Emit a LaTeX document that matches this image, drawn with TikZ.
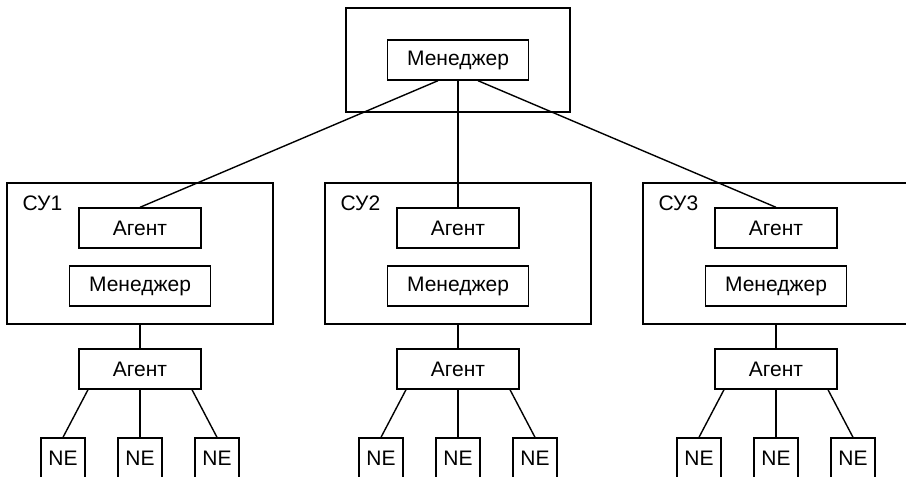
\documentclass[tikz,border=0pt]{standalone}
\usepackage{fontspec}
\setmainfont{Liberation Sans}
\begin{document}
\begin{tikzpicture}[x=1pt, y=-1pt, line width=1.4pt,
    every node/.style={font=\fontsize{21}{24}\selectfont, inner sep=0pt},
    blk/.style={draw, fill=white, minimum height=40pt},
    outer/.style={draw, minimum width=266pt, minimum height=141pt}]
    \useasboundingbox (0,0) rectangle (906,477);
    % Top level
    \node[draw, minimum width=224pt, minimum height=104pt] (top) at (458,60) {};
    \node[blk, minimum width=141pt] (mgr) at (458,60) {Менеджер};
    % Control units
    \node[outer] (su1) at (140,253.5) {};
    \node[outer] (su2) at (458,253.5) {};
    \node[outer] (su3) at (776,253.5) {};
    \node[anchor=base west] (l1) at (22,210) {СУ1};
    \node[anchor=base west] (l2) at (340,210) {СУ2};
    \node[anchor=base west] (l3) at (658,210) {СУ3};
    \node[blk, minimum width=122pt] (ag1) at (140,228) {Агент};
    \node[blk, minimum width=122pt] (ag2) at (458,228) {Агент};
    \node[blk, minimum width=122pt] (ag3) at (776,228) {Агент};
    \node[blk, minimum width=141pt] (m1) at (140,286) {Менеджер};
    \node[blk, minimum width=141pt] (m2) at (458,286) {Менеджер};
    \node[blk, minimum width=141pt] (m3) at (776,286) {Менеджер};
    % Lower agents
    \node[blk, minimum width=122pt] (la1) at (140,369) {Агент};
    \node[blk, minimum width=122pt] (la2) at (458,369) {Агент};
    \node[blk, minimum width=122pt] (la3) at (776,369) {Агент};
    % Network elements
    \node[blk, minimum width=44pt] (ne11) at (63,458) {NE};
    \node[blk, minimum width=44pt] (ne12) at (140,458) {NE};
    \node[blk, minimum width=44pt] (ne13) at (217,458) {NE};
    \node[blk, minimum width=44pt] (ne21) at (381,458) {NE};
    \node[blk, minimum width=44pt] (ne22) at (458,458) {NE};
    \node[blk, minimum width=44pt] (ne23) at (535,458) {NE};
    \node[blk, minimum width=44pt] (ne31) at (699,458) {NE};
    \node[blk, minimum width=44pt] (ne32) at (776,458) {NE};
    \node[blk, minimum width=44pt] (ne33) at (853,458) {NE};
    % Links
    \draw ([xshift=-20pt]mgr.south) -- (ag1.north);
    \draw (mgr.south) -- (ag2.north);
    \draw ([xshift=20pt]mgr.south) -- (ag3.north);
    \draw (su1.south) -- (la1.north);
    \draw (su2.south) -- (la2.north);
    \draw (su3.south) -- (la3.north);
    \draw ([xshift=-52pt]la1.south) -- (ne11.north);
    \draw (la1.south) -- (ne12.north);
    \draw ([xshift=52pt]la1.south) -- (ne13.north);
    \draw ([xshift=-52pt]la2.south) -- (ne21.north);
    \draw (la2.south) -- (ne22.north);
    \draw ([xshift=52pt]la2.south) -- (ne23.north);
    \draw ([xshift=-52pt]la3.south) -- (ne31.north);
    \draw (la3.south) -- (ne32.north);
    \draw ([xshift=52pt]la3.south) -- (ne33.north);
\end{tikzpicture}
\end{document}
